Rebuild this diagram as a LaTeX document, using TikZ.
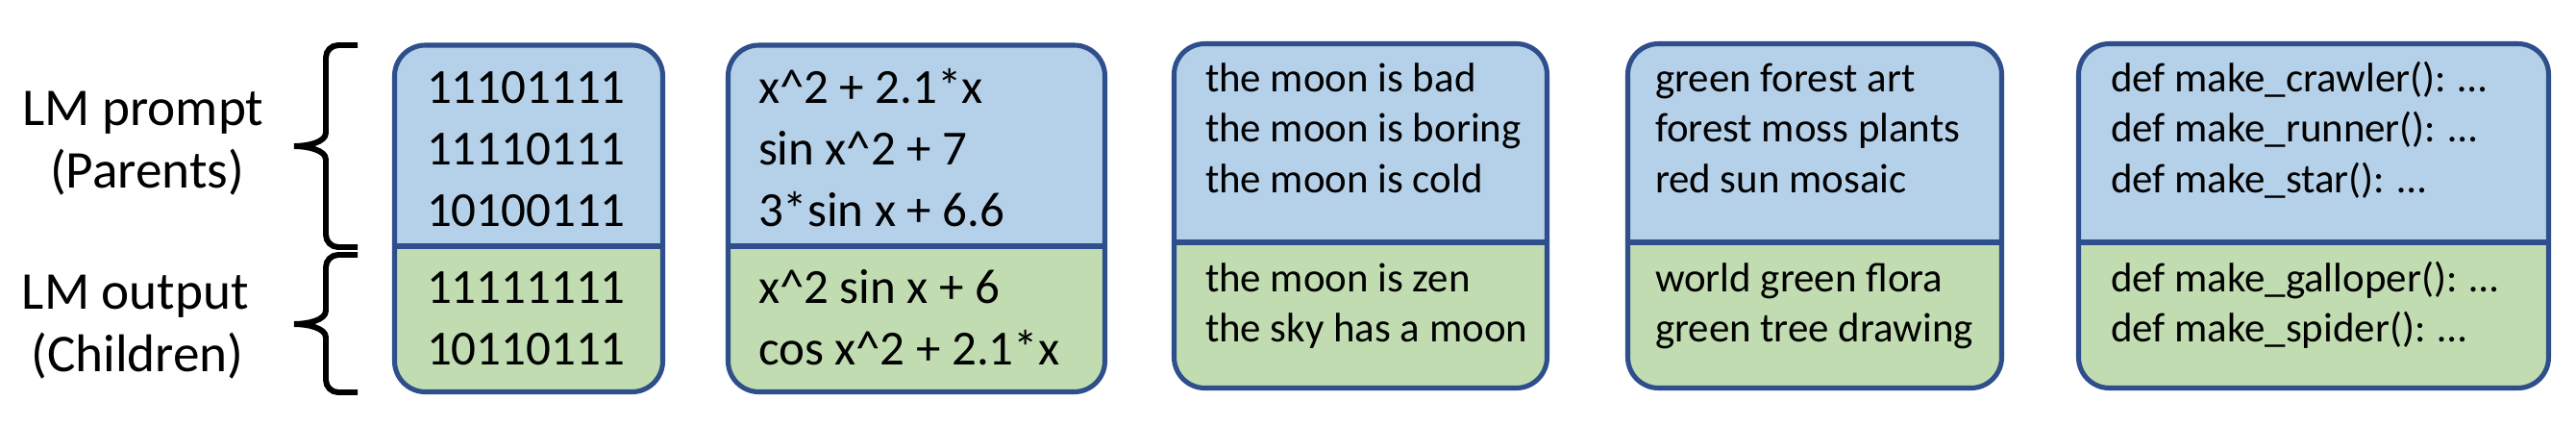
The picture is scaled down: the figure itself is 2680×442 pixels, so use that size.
\documentclass[tikz,border=0pt]{standalone}
\usepackage{fontspec}
\setmainfont{Carlito}
\usetikzlibrary{calc}
\definecolor{promptblue}{RGB}{181,209,233}
\definecolor{outputgreen}{RGB}{192,220,176}
\definecolor{framenavy}{RGB}{46,79,139}
\tikzset {
  every node/.style={inner sep=0pt, outer sep=0pt},
  bigtext/.style={font=\fontsize{14.5}{18}\selectfont, anchor=base west},
  smalltext/.style={font=\fontsize{12.2}{15}\selectfont, anchor=base west},
  sidelabel/.style={font=\fontsize{15.7}{19}\selectfont, anchor=base},
  panelframe/.style={draw=framenavy, line width=1.45pt, rounded corners=3.2mm},
  divider/.style={draw=framenavy, line width=1.7pt},
  curly/.style={draw=black, line width=1.7pt},
}
% one panel: name, left, right, top, divider, bottom
\newcommand\lmpanel[6]{%
  \coordinate (#1nw) at (#2,#4);
  \coordinate (#1se) at (#3,#6);
  \coordinate (#1dl) at (#2,#5);
  \coordinate (#1dr) at (#3,#5);
  \begin{scope}
    \clip[rounded corners=3.2mm] (#1nw) rectangle (#1se);
    \fill[promptblue] (#1nw) rectangle (#1dr);
    \fill[outputgreen] (#1dl) rectangle (#1se);
  \end{scope}
  \draw[divider] (#1dl) -- (#1dr);
  \draw[panelframe] (#1nw) rectangle (#1se);
}

\begin{document}
\begin{tikzpicture}[x=0.01cm, y=-0.01cm]
  \useasboundingbox (0,0) rectangle (2680,442);

  % labels on the left
  \node[sidelabel] (prompt) at (149,130) {LM prompt};
  \node[sidelabel] (parents) at (153,195) {(Parents)};
  \node[sidelabel] (output) at (141,321) {LM output};
  \node[sidelabel] (children) at (143,386) {(Children)};

  % braces
  \draw[curly] (372,47) -- (352,47) to[out=180,in=90] (339,60) -- (339,138)
    .. controls (339,148) and (320,152) .. (306,152)
    .. controls (320,152) and (339,156) .. (339,166) -- (339,244)
    to[out=-90,in=180] (352,257) -- (372,257);
  \draw[curly] (372,265) -- (352,265) to[out=180,in=90] (339,278) -- (339,323)
    .. controls (339,333) and (320,337) .. (306,337)
    .. controls (320,337) and (339,341) .. (339,351) -- (339,395)
    to[out=-90,in=180] (352,408) -- (372,408);

  % panels
  \lmpanel{bits}{410.5}{689.5}{47}{256}{407.5}
  \lmpanel{expr}{757.5}{1149.5}{47}{256}{407.5}
  \lmpanel{moon}{1221.5}{1609.5}{45.5}{252}{403.5}
  \lmpanel{forest}{1693.5}{2082.5}{45.5}{252}{403.5}
  \lmpanel{code}{2162.5}{2651.5}{45.5}{252}{403.5}

  \foreach \row [count=\i] in {{11101111},{11110111},{10100111}}
    \node[bigtext] (bitsin\i) at (444,43+64*\i) {\row};
  \foreach \row [count=\i] in {{11111111},{10110111}}
    \node[bigtext] (bitsout\i) at (444,251+64*\i) {\row};

  \foreach \row [count=\i] in {{x\textasciicircum2 + 2.1*x},{sin x\textasciicircum2 + 7},{3*sin x + 6.6}}
    \node[bigtext] (exprin\i) at (789,43+64*\i) {\row};
  \foreach \row [count=\i] in {{x\textasciicircum2 sin x + 6},{cos x\textasciicircum2 + 2.1*x}}
    \node[bigtext] (exprout\i) at (789,251+64*\i) {\row};

  \foreach \row [count=\i] in {{the moon is bad},{the moon is boring},{the moon is cold}}
    \node[smalltext] (moonin\i) at (1254,42.5+52.5*\i) {\row};
  \foreach \row [count=\i] in {{the moon is zen},{the sky has a moon}}
    \node[smalltext] (moonout\i) at (1254,250.5+52.5*\i) {\row};

  \foreach \row [count=\i] in {{green forest art},{forest moss plants},{red sun mosaic}}
    \node[smalltext] (forestin\i) at (1722,42.5+52.5*\i) {\row};
  \foreach \row [count=\i] in {{world green flora},{green tree drawing}}
    \node[smalltext] (forestout\i) at (1722,250.5+52.5*\i) {\row};

  \foreach \row [count=\i] in {{def make\_crawler(): \ldots},{def make\_runner(): \ldots},{def make\_star(): \ldots}}
    \node[smalltext] (codein\i) at (2196,42.5+52.5*\i) {\row};
  \foreach \row [count=\i] in {{def make\_galloper(): \ldots},{def make\_spider(): \ldots}}
    \node[smalltext] (codeout\i) at (2196,250.5+52.5*\i) {\row};
\end{tikzpicture}
\end{document}
